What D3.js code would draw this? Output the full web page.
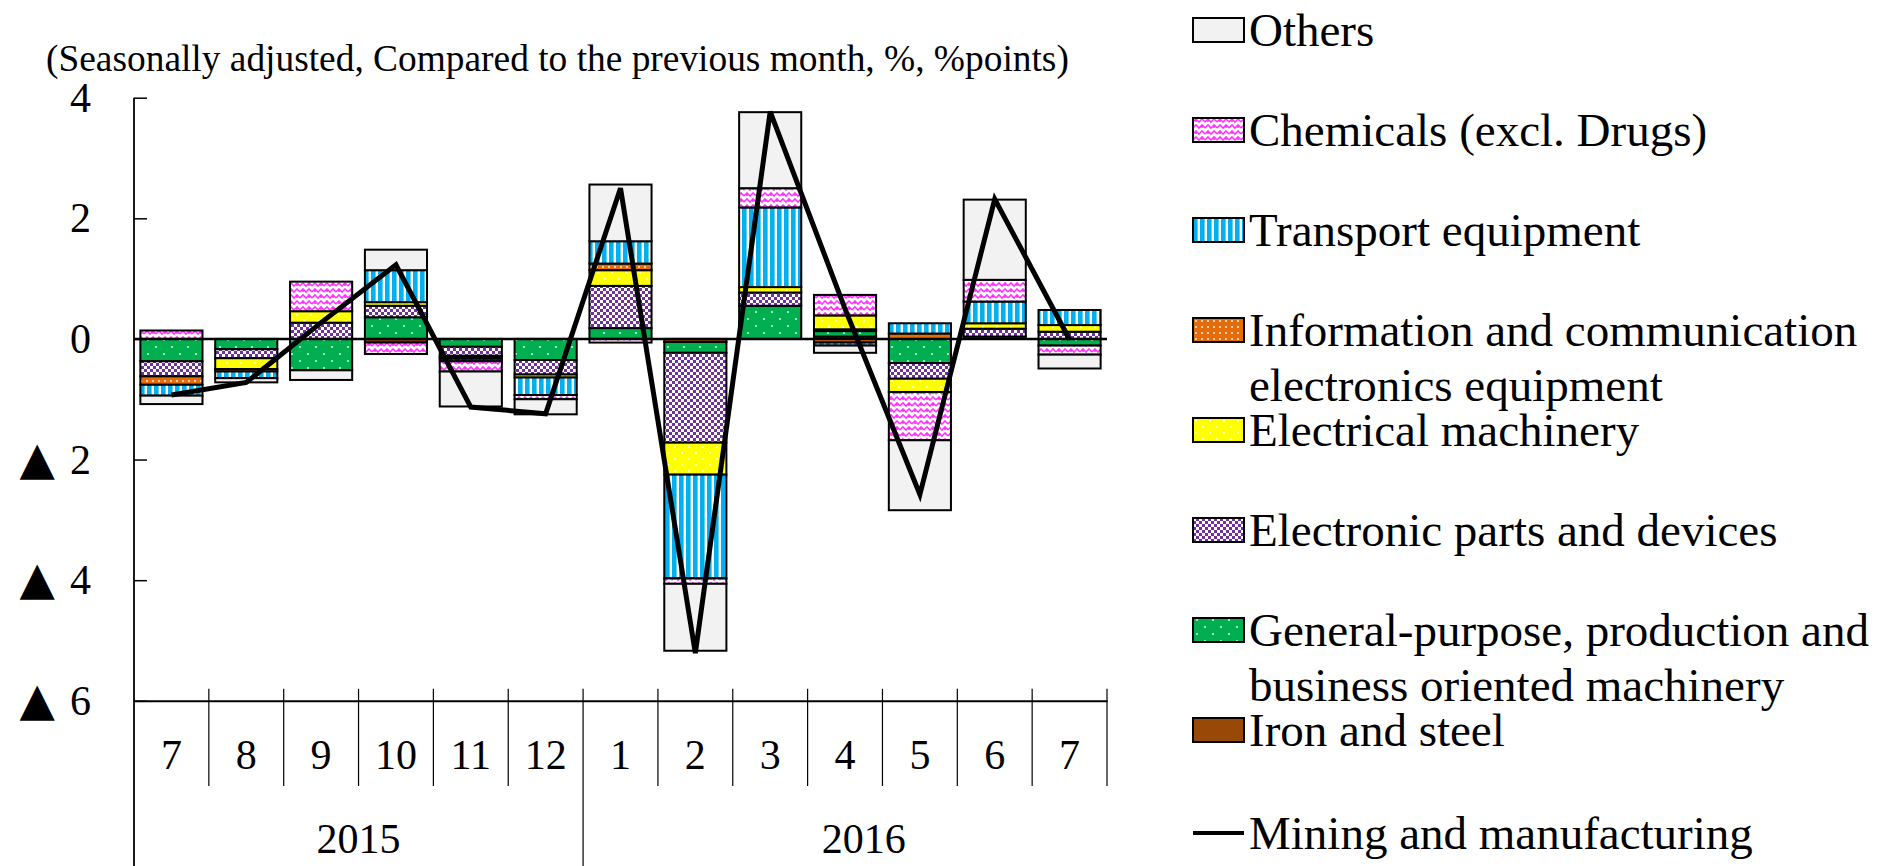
<!DOCTYPE html>
<html>
<head>
<meta charset="utf-8">
<script src="https://cdn.jsdelivr.net/npm/d3@7"></script>
<style>
  body { margin: 0; background: #fff; }
  text { font-family: "Liberation Serif", "Times New Roman", serif; fill: #000; }
</style>
</head>
<body>
<div id="chart"></div>
<script>
"use strict"

// months on the category axis, years below them
let months = ["7", "8", "9", "10", "11", "12", "1", "2", "3", "4", "5", "6", "7"];
let years = ["2015", "2016"];
let yearStart = [0, 6];

// contributions (%points)
let iron       = [0, 0, 0, -0.06, 0, 0, 0, -0.05, 0, 0.04, 0, 0, 0];
let general    = [-0.37, -0.17, -0.52, 0.36, -0.13, -0.35, 0.18, -0.18, 0.55, 0.09, -0.40, 0.04, -0.11];
let electronic = [-0.25, -0.15, 0.27, 0.19, -0.15, -0.24, 0.70, -1.49, 0.22, 0.03, -0.26, 0.13, 0.12];
let electrical = [0, -0.18, 0.19, 0.06, -0.03, -0.05, 0.26, -0.53, 0.09, 0.23, -0.22, 0.09, 0.11];
let info       = [-0.14, -0.04, 0, 0, -0.02, 0, 0.11, 0, 0, -0.06, 0.09, 0, 0];
let transport  = [-0.18, -0.11, 0, 0.53, -0.04, -0.29, 0.37, -1.72, 1.32, -0.05, 0.17, 0.36, 0.25];
let chemicals  = [0.14, 0, 0.49, -0.19, -0.17, -0.07, -0.06, -0.09, 0.32, 0.34, -0.80, 0.36, -0.15];
let others     = [-0.14, -0.07, -0.16, 0.34, -0.58, -0.25, 0.94, -1.11, 1.26, -0.12, -1.16, 1.33, -0.23];

// mining and manufacturing (%)
let mining = [-0.93, -0.72, 0.27, 1.23, -1.13, -1.24, 2.50, -5.21, 3.77, 0.50, -2.58, 2.32, -0.01];

let yTicks = [4, 2, 0, -2, -4, -6];

let keys = ["iron", "general", "electronic", "electrical", "info", "transport", "chemicals", "others"];
let series = {iron, general, electronic, electrical, info, transport, chemicals, others};
let labels = {
  others: ["Others"],
  chemicals: ["Chemicals (excl. Drugs)"],
  transport: ["Transport equipment"],
  info: ["Information and communication", "electronics equipment"],
  electrical: ["Electrical machinery"],
  electronic: ["Electronic parts and devices"],
  general: ["General-purpose, production and", "business oriented machinery"],
  iron: ["Iron and steel"]
};
let lineLabel = "Mining and manufacturing";

let width = 1887;
let height = 866;

let svg = d3.select("#chart").append("svg")
            .attr("width", width)
            .attr("height", height);

makePatterns();

let x = d3.scaleBand()
          .domain(d3.range(months.length))
          .range([134, 1107]);
let y = d3.scaleLinear()
          .domain([-6, 4])
          .range([700.8, 97.7]);
let bw = x.bandwidth();
let barW = bw * 0.83;

let rows = months.map(function(m, i) {
  let r = {i: i};
  keys.forEach(k => r[k] = series[k][i]);
  return r;
});

let stacked = d3.stack()
                .keys(keys)
                .offset(d3.stackOffsetDiverging)(rows);

// bars
svg.append("g")
   .selectAll("g")
   .data(stacked)
   .join("g")
   .attr("fill", d => "url(#p-" + d.key + ")")
   .selectAll("rect")
   .data(d => d.filter(s => s[1] - s[0] !== 0))
   .join("rect")
   .attr("x", d => x(d.data.i) + (bw - barW) / 2)
   .attr("width", barW)
   .attr("y", d => y(d[1]))
   .attr("height", d => y(d[0]) - y(d[1]))
   .attr("stroke", "#000")
   .attr("stroke-width", 2);

// zero line
svg.append("line")
   .attr("x1", x.range()[0]).attr("x2", x.range()[1])
   .attr("y1", y(0)).attr("y2", y(0))
   .attr("stroke", "#000")
   .attr("stroke-width", 2.5);

// y axis
let yAxis = svg.append("g")
               .attr("transform", "translate(" + x.range()[0] + ",0)")
               .call(d3.axisLeft(y)
                       .tickValues(yTicks)
                       .tickSizeInner(-13)
                       .tickSizeOuter(0)
                       .tickPadding(43)
                       .tickFormat(d => Math.abs(d)));
yAxis.select(".domain").remove();
yAxis.selectAll(".tick line").attr("stroke", "#000").attr("stroke-width", 1.5);
yAxis.selectAll(".tick text")
     .attr("font-size", 42)
     .attr("font-family", "'Liberation Serif', serif")
     .attr("fill", "#000")
     .each(function(d) {
       if (d >= 0) return;
       let t = d3.select(this);
       t.text(null);
       t.append("tspan")
        .attr("font-family", "'DejaVu Sans', sans-serif")
        .attr("font-size", 46)
        .text("\u25B2");
       t.append("tspan")
        .attr("dx", 15)
        .text(Math.abs(d));
     });

svg.append("line")
   .attr("x1", x.range()[0]).attr("x2", x.range()[0])
   .attr("y1", y(4)).attr("y2", height)
   .attr("stroke", "#000")
   .attr("stroke-width", 1.8);

// x axis
let xAxis = svg.append("g")
               .attr("transform", "translate(0," + y(-6) + ")")
               .call(d3.axisBottom(x)
                       .tickSize(0)
                       .tickPadding(38)
                       .tickFormat(i => months[i]));
xAxis.select(".domain").attr("stroke", "#000").attr("stroke-width", 2);
xAxis.selectAll(".tick text")
     .attr("font-size", 42)
     .attr("font-family", "'Liberation Serif', serif")
     .attr("fill", "#000");

// category separators
svg.append("g")
   .selectAll("line")
   .data(d3.range(1, months.length + 1))
   .join("line")
   .attr("x1", i => i < months.length ? x(i) : x.range()[1])
   .attr("x2", i => i < months.length ? x(i) : x.range()[1])
   .attr("y1", y(-6) - 12)
   .attr("y2", i => yearStart.indexOf(i) >= 0 ? height : 786)
   .attr("stroke", "#000")
   .attr("stroke-width", 1.2);

// year labels (the last group reaches past the plot edge)
svg.append("g")
   .selectAll("text")
   .data(years)
   .join("text")
   .attr("x", function(d, k) {
     let a = x(yearStart[k]);
     let b = k + 1 < years.length ? x(yearStart[k + 1]) : x.range()[1] + bw / 2;
     return (a + b) / 2;
   })
   .attr("y", 853)
   .attr("text-anchor", "middle")
   .attr("font-size", 42)
   .text(d => d);

// mining and manufacturing line
let line = d3.line()
             .x((d, i) => x(i) + bw / 2)
             .y(d => y(d));
svg.append("path")
   .datum(mining)
   .attr("d", line)
   .attr("fill", "none")
   .attr("stroke", "#000")
   .attr("stroke-width", 5)
   .attr("stroke-linejoin", "miter");

// subtitle
svg.append("text")
   .attr("x", 46)
   .attr("y", 71)
   .attr("font-size", 37.4)
   .text("(Seasonally adjusted, Compared to the previous month, %, %points)");

// legend
let legendKeys = keys.slice().reverse();
let legend = svg.append("g")
                .selectAll("g")
                .data(legendKeys)
                .join("g")
                .attr("transform", (d, i) => "translate(1193," + (30 + i * 100) + ")");
legend.append("rect")
      .attr("x", 0).attr("y", -12)
      .attr("width", 51).attr("height", 24)
      .attr("fill", d => "url(#p-" + d + ")")
      .attr("stroke", "#000")
      .attr("stroke-width", 2);
legend.append("text")
      .attr("x", 56)
      .attr("y", 15.5)
      .attr("font-size", 47)
      .selectAll("tspan")
      .data(d => labels[d])
      .join("tspan")
      .attr("x", 56)
      .attr("dy", (d, i) => i === 0 ? 0 : 55)
      .text(d => d);

let lineLegend = svg.append("g")
                    .attr("transform", "translate(1193," + (30 + legendKeys.length * 100 + 3) + ")");
lineLegend.append("line")
          .attr("x1", 0).attr("x2", 51)
          .attr("stroke", "#000")
          .attr("stroke-width", 4);
lineLegend.append("text")
          .attr("x", 56)
          .attr("y", 15.5)
          .attr("font-size", 47)
          .text(lineLabel);

function makePatterns()
{
  let defs = svg.append("defs");

  function pat(id, w, h, bg)
  {
    let p = defs.append("pattern")
                .attr("id", "p-" + id)
                .attr("patternUnits", "userSpaceOnUse")
                .attr("width", w)
                .attr("height", h);
    p.append("rect").attr("width", w).attr("height", h).attr("fill", bg);
    return p;
  }
  function dots(p, pts, r, color)
  {
    pts.forEach(function(c) {
      p.append("circle").attr("cx", c[0]).attr("cy", c[1]).attr("r", r).attr("fill", color);
    });
  }

  pat("others", 4, 4, "#f2f2f2");
  pat("iron", 4, 4, "#984807");

  let ch = pat("chemicals", 12, 12, "#fff");
  ch.append("path")
    .attr("d", "M0,4 L3,1 L6,4 L9,1 L12,4 M0,10 L3,7 L6,10 L9,7 L12,10 M3,1 L3,4 M9,7 L9,10")
    .attr("fill", "none")
    .attr("stroke", "#ff33ff")
    .attr("stroke-width", 1.6);

  let tr = pat("transport", 7, 7, "#fff");
  tr.append("rect").attr("width", 4.6).attr("height", 7).attr("fill", "#00b0f0");

  let inf = pat("info", 6, 6, "#e46c0a");
  dots(inf, [[3, 3]], 0.9, "#fff");

  let el = pat("electrical", 14, 12, "#ffff00");
  dots(el, [[3, 3], [10, 9]], 1, "#fff");

  let ep = pat("electronic", 6, 6, "#7030a0");
  ep.append("rect").attr("x", 0).attr("y", 0).attr("width", 3).attr("height", 3).attr("fill", "#fff");
  ep.append("rect").attr("x", 3).attr("y", 3).attr("width", 3).attr("height", 3).attr("fill", "#fff");

  let gp = pat("general", 16, 14, "#00b050");
  dots(gp, [[4, 4], [12, 11]], 1.1, "#cfeedd");
}
</script>
</body>
</html>
